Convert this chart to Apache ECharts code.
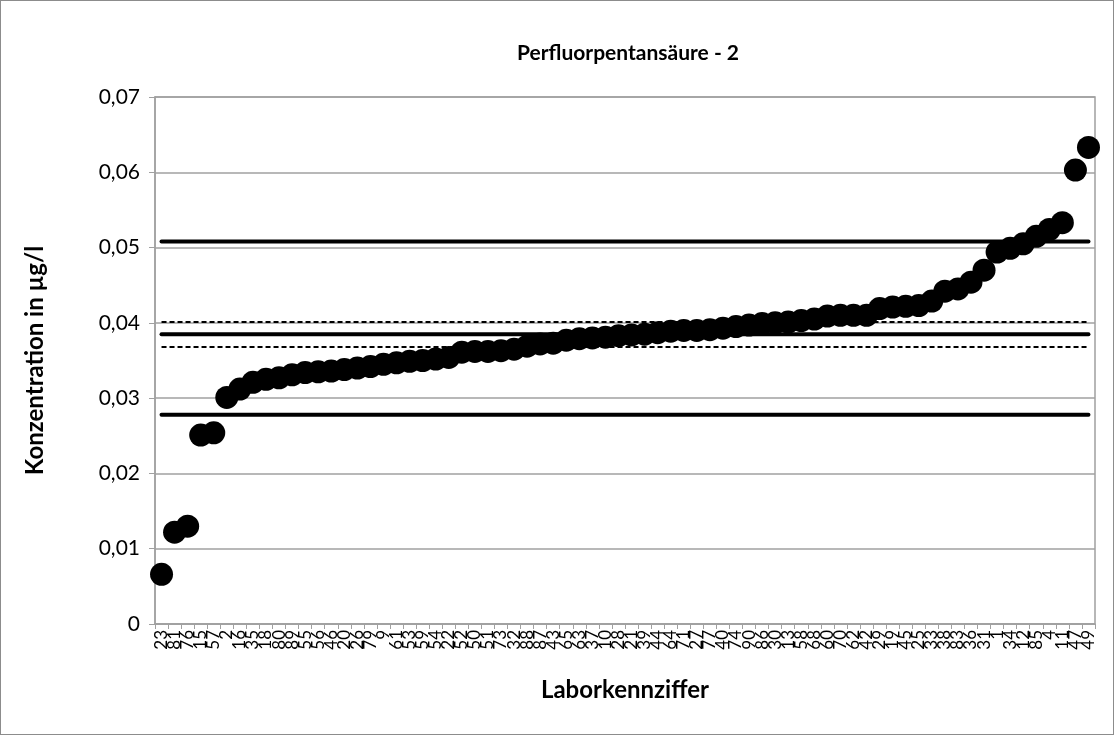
<!DOCTYPE html>
<html>
<head>
<meta charset="utf-8">
<script src="https://cdn.jsdelivr.net/npm/echarts@6/dist/echarts.min.js"></script>
<style>
  html, body { margin: 0; padding: 0; background: #fff; }
  #frame { width: 1112px; height: 733px; border: 1px solid #8c8c8c; position: relative; }
  #chart { width: 1112px; height: 733px; }
</style>
</head>
<body>
<div id="frame"><div id="chart"></div></div>
<script>
// Laboratory codes (x axis), sorted by reported concentration
const labCodes = [
  '23','81','76','15','57','2','16','35','18','80','89','55','56','46','20','26','79','9',
  '61','53','59','54','22','52','50','51','73','32','88','87','43','65','63','37','10','28',
  '21','39','44','64','71','27','77','40','74','90','86','30','13','58','68','60','70','62',
  '42','29','19','45','25','33','38','83','36','31','1','34','12','85','4','11','47','49'
];

// Reported concentrations in µg/l
const concentrations = [
  0.0066, 0.0122, 0.0130, 0.0251, 0.0254, 0.0301, 0.0312, 0.0321, 0.0325, 0.0327, 0.0331, 0.0334,
  0.0335, 0.0336, 0.0338, 0.0340, 0.0342, 0.0345, 0.0347, 0.0349, 0.0350, 0.0352, 0.0354, 0.0361,
  0.0362, 0.0362, 0.0363, 0.0365, 0.0369, 0.0372, 0.0373, 0.0377, 0.0379, 0.0380, 0.0381, 0.0383,
  0.0384, 0.0385, 0.0387, 0.0389, 0.0390, 0.0390, 0.0391, 0.0393, 0.0395, 0.0397, 0.0399, 0.0400,
  0.0401, 0.0403, 0.0405, 0.0409, 0.0410, 0.0410, 0.0410, 0.0419, 0.0421, 0.0422, 0.0423, 0.0429,
  0.0442, 0.0445, 0.0454, 0.0470, 0.0494, 0.0499, 0.0505, 0.0515, 0.0524, 0.0533, 0.0603, 0.0633
];

// Assigned value, its confidence band, and tolerance limits
const assignedValue = 0.0385;
const confidenceBand = [0.0368, 0.0401];
const toleranceLimits = [0.0278, 0.0508];

// Y axis ticks
const yMin = 0, yMax = 0.07, yStep = 0.01;

const FONT = 'Lato, "Liberation Sans", sans-serif';
const GRID_GRAY = '#a0a0a0';

function hLine(value, dashed) {
  return {
    type: 'line',
    data: [[labCodes[0], value], [labCodes[labCodes.length - 1], value]],
    symbol: 'none',
    silent: true,
    z: 2,
    lineStyle: dashed
      ? { color: '#000', width: 2, type: [5, 3] }
      : { color: '#000', width: 4, cap: 'round' }
  };
}

const chart = echarts.init(document.getElementById('chart'), null, { renderer: 'canvas' });
chart.setOption({
  backgroundColor: '#fff',
  animation: false,
  title: {
    text: 'Perfluorpentansäure - 2',
    left: 622, top: 37, textAlign: 'center',
    textStyle: { fontFamily: FONT, fontSize: 21, fontWeight: 'bold', color: '#000' }
  },
  grid: { left: 154, right: 18, top: 96, bottom: 110, show: true, borderColor: GRID_GRAY, borderWidth: 1.5 },
  xAxis: {
    type: 'category',
    data: labCodes,
    boundaryGap: true,
    name: 'Laborkennziffer',
    nameLocation: 'middle',
    nameGap: 54,
    nameTextStyle: { fontFamily: FONT, fontSize: 24, fontWeight: 'bold', color: '#000' },
    axisLine: { lineStyle: { color: GRID_GRAY, width: 1.5 } },
    axisTick: { show: true, length: 5, interval: 0, lineStyle: { color: GRID_GRAY } },
    axisLabel: {
      interval: 0, rotate: 90, margin: 6, hideOverlap: false,
      fontFamily: FONT, fontSize: 17, color: '#000'
    },
    splitLine: { show: false }
  },
  yAxis: {
    type: 'value',
    min: yMin, max: yMax, interval: yStep,
    name: 'Konzentration in µg/l',
    nameLocation: 'middle',
    nameGap: 108,
    nameTextStyle: { fontFamily: FONT, fontSize: 24, fontWeight: 'bold', color: '#000' },
    axisLine: { show: true, lineStyle: { color: GRID_GRAY, width: 1.5 } },
    axisTick: { show: true, length: 6, lineStyle: { color: GRID_GRAY } },
    axisLabel: {
      margin: 15, fontFamily: FONT, fontSize: 21, color: '#000',
      formatter: v => v === 0 ? '0' : v.toFixed(2).replace('.', ',')
    },
    splitLine: { show: true, lineStyle: { color: GRID_GRAY, width: 1.5 } }
  },
  series: [
    hLine(toleranceLimits[1], false),
    hLine(confidenceBand[1], true),
    hLine(assignedValue, false),
    hLine(confidenceBand[0], true),
    hLine(toleranceLimits[0], false),
    {
      type: 'scatter',
      data: concentrations,
      symbol: 'circle',
      symbolSize: 23,
      z: 5,
      itemStyle: { color: '#000', opacity: 1 }
    }
  ]
});
</script>
</body>
</html>
